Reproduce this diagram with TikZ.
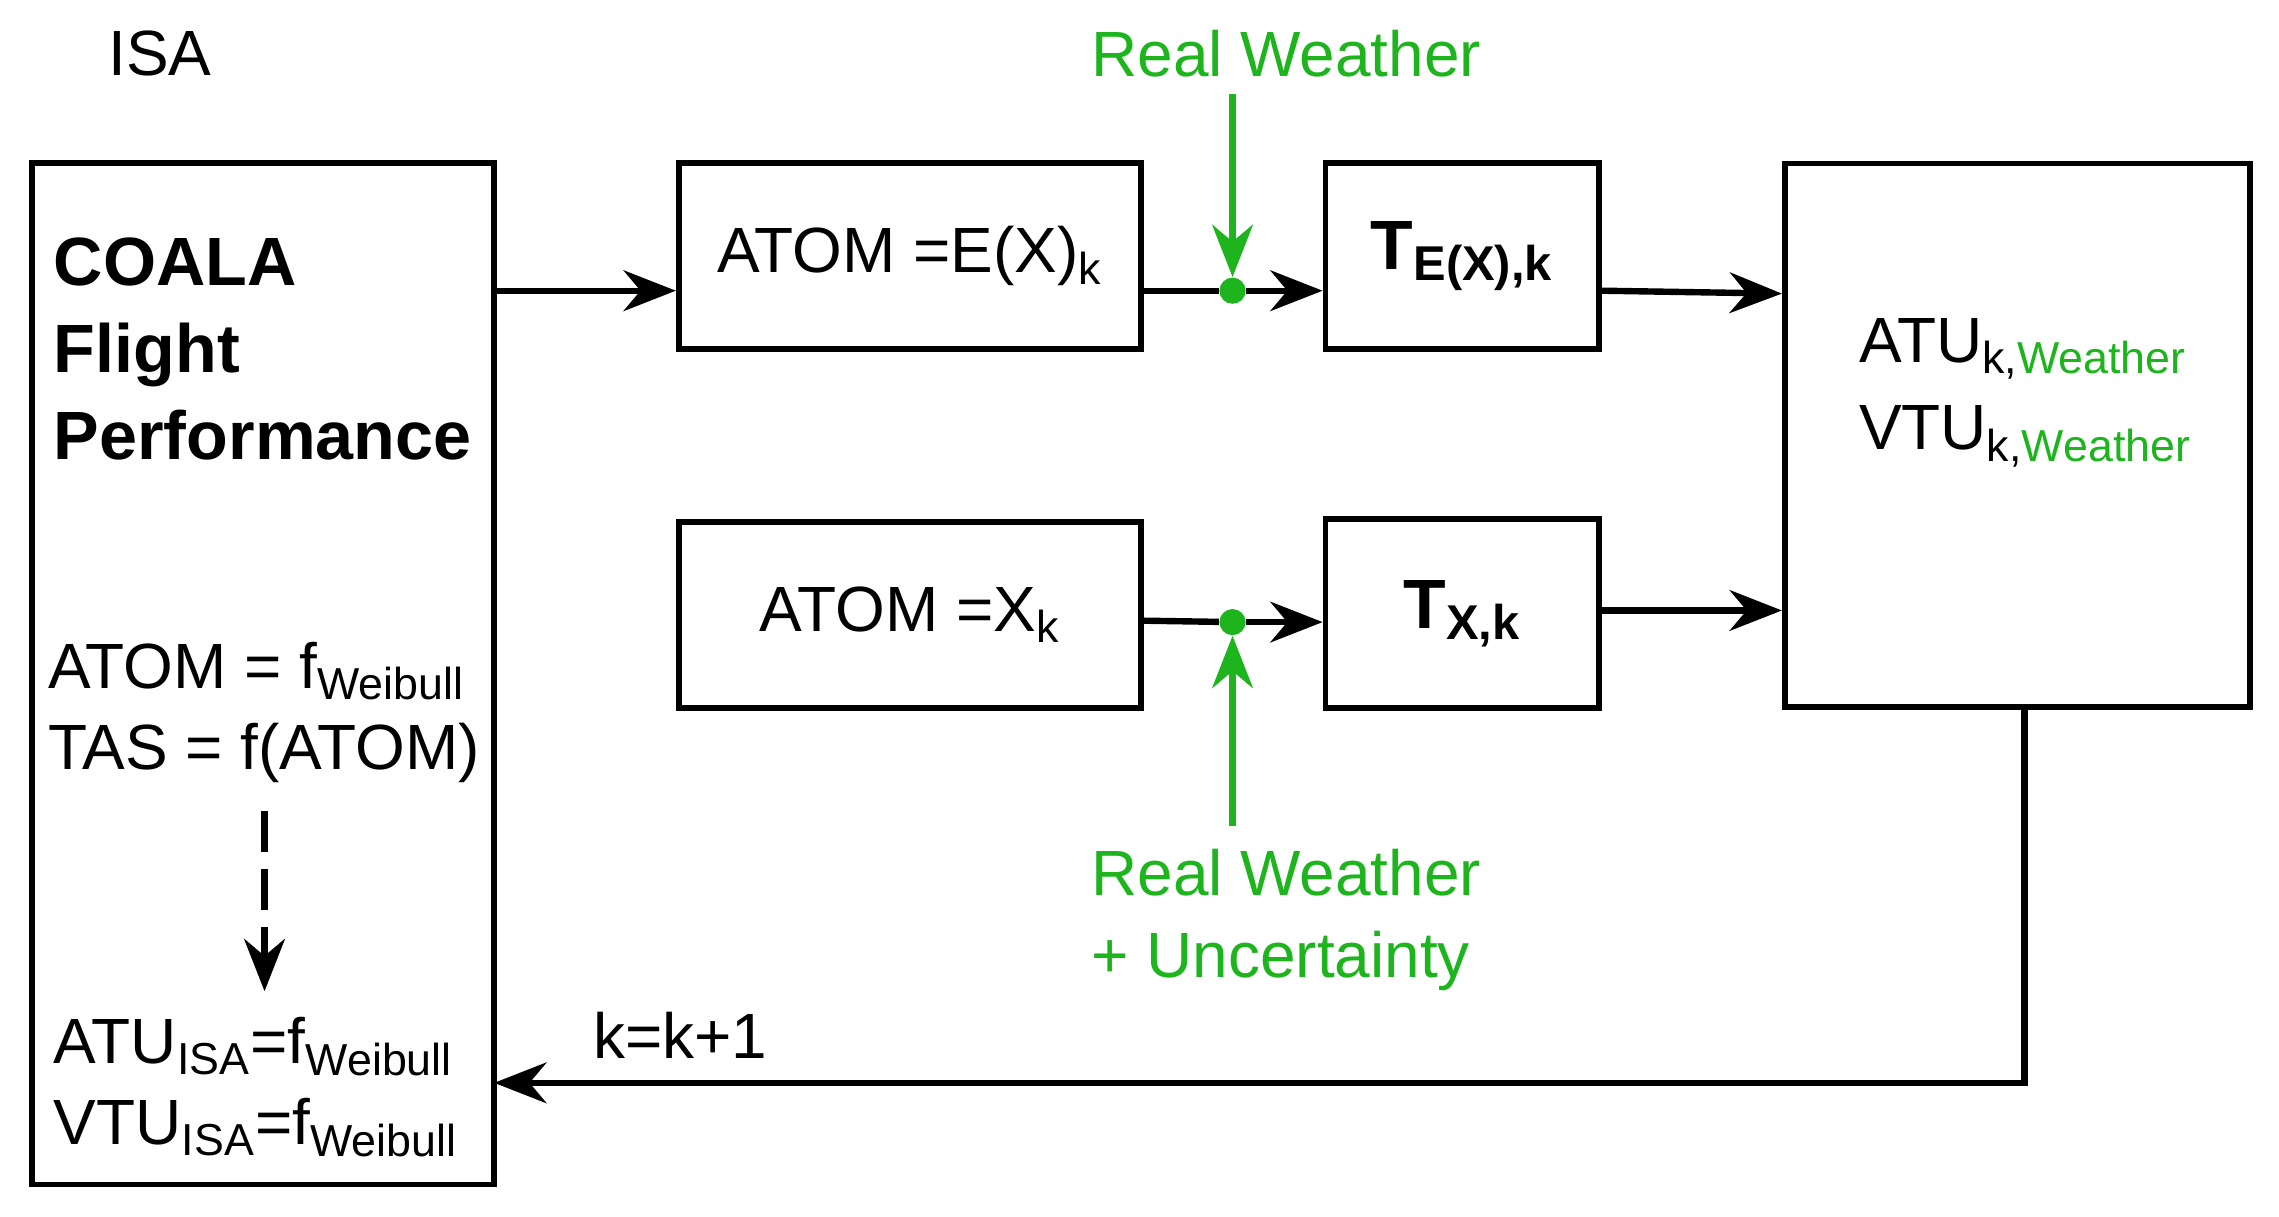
\documentclass[tikz,border=0pt]{standalone}
\usepackage{fontspec}
\setmainfont{Liberation Sans}
\usetikzlibrary{arrows.meta}
\definecolor{gr}{RGB}{30,180,30}
\begin{document}
\begin{tikzpicture}[x=0.5pt,y=-0.5pt,
  box/.style={draw,line width=2pt,inner sep=0},
  arr/.style={line width=2.2pt,-{Stealth[length=18pt,width=14pt]}},
  txt/.style={font=\fontsize{22}{28}\selectfont},
  big/.style={font=\fontsize{23.5}{30}\selectfont\bfseries}]
\useasboundingbox (0,0) rectangle (1568,837);
\node[txt] (isa) at (110,37) {ISA};
\draw[box] (22,112) rectangle (340,815);
\node[big,anchor=west,align=left] (coala) at (30,240) {COALA\\Flight\\Performance};
\node[txt,anchor=west,align=left] (f1) at (26,490) {ATOM = f\textsubscript{Weibull}\\TAS = f(ATOM)};
\node[txt,anchor=west,align=left] (f2) at (30,748) {ATU\textsubscript{ISA}=f\textsubscript{Weibull}\\VTU\textsubscript{ISA}=f\textsubscript{Weibull}};
\coordinate (d1) at (182,558);
\coordinate (d2) at (182,682);
\draw[arr,dashed,dash pattern=on 14pt off 6pt] (d1) -- (d2);
\node[box,minimum width=159pt,minimum height=64pt,txt] (a1) at (626,176) {ATOM =E(X)\textsubscript{k}};
\node[box,minimum width=159pt,minimum height=64pt,txt] (a2) at (626,423) {ATOM =X\textsubscript{k}};
\node[box,minimum width=94pt,minimum height=64pt,font=\fontsize{24}{28}\selectfont\bfseries] (t1) at (1006,176) {T\textsubscript{E(X),k}};
\node[box,minimum width=94pt,minimum height=65pt,font=\fontsize{24}{28}\selectfont\bfseries] (t2) at (1006,422) {T\textsubscript{X,k}};
\node[box,minimum width=160pt,minimum height=187pt] (out) at (1388,299.5) {};
\node[txt,anchor=west,align=left] (outt) at (1272,270) {ATU\textsubscript{k,\textcolor{gr}{Weather}}\\[2pt]VTU\textsubscript{k,\textcolor{gr}{Weather}}};
\node[fill=gr,circle,inner sep=0,minimum size=9pt] (g1) at (848,200) {};
\node[fill=gr,circle,inner sep=0,minimum size=9pt] (g2) at (848,428) {};
\node[txt,text=gr] (rw) at (885,37) {Real Weather};
\node[txt,text=gr,align=left] (rwu) at (885,633) {Real Weather\\+ Uncertainty};
\coordinate (r1) at (848,65);
\coordinate (r2) at (848,568);
\draw[arr,gr] (r1) -- (g1);
\draw[arr,gr] (r2) -- (g2);
\draw[arr] (340,200) -- (a1.west|-340,200);
\draw[line width=2.2pt] (785,200) -- (g1);
\draw[arr] (g1) -- (t1.west|-g1);
\draw[arr] (t1.east|-0,200) -- (out.west|-0,202);
\draw[line width=2.2pt] (785,427) -- (g2);
\draw[arr] (g2) -- (t2.west|-g2);
\draw[arr] (t2.east|-0,420) -- (out.west|-0,420);
\coordinate (c1) at (1393,745);
\draw[arr] (out.south-|1393,0) |- (c1) -- (340,745);
\node[txt] (kk) at (468,712) {k=k+1};
\end{tikzpicture}
\end{document}
